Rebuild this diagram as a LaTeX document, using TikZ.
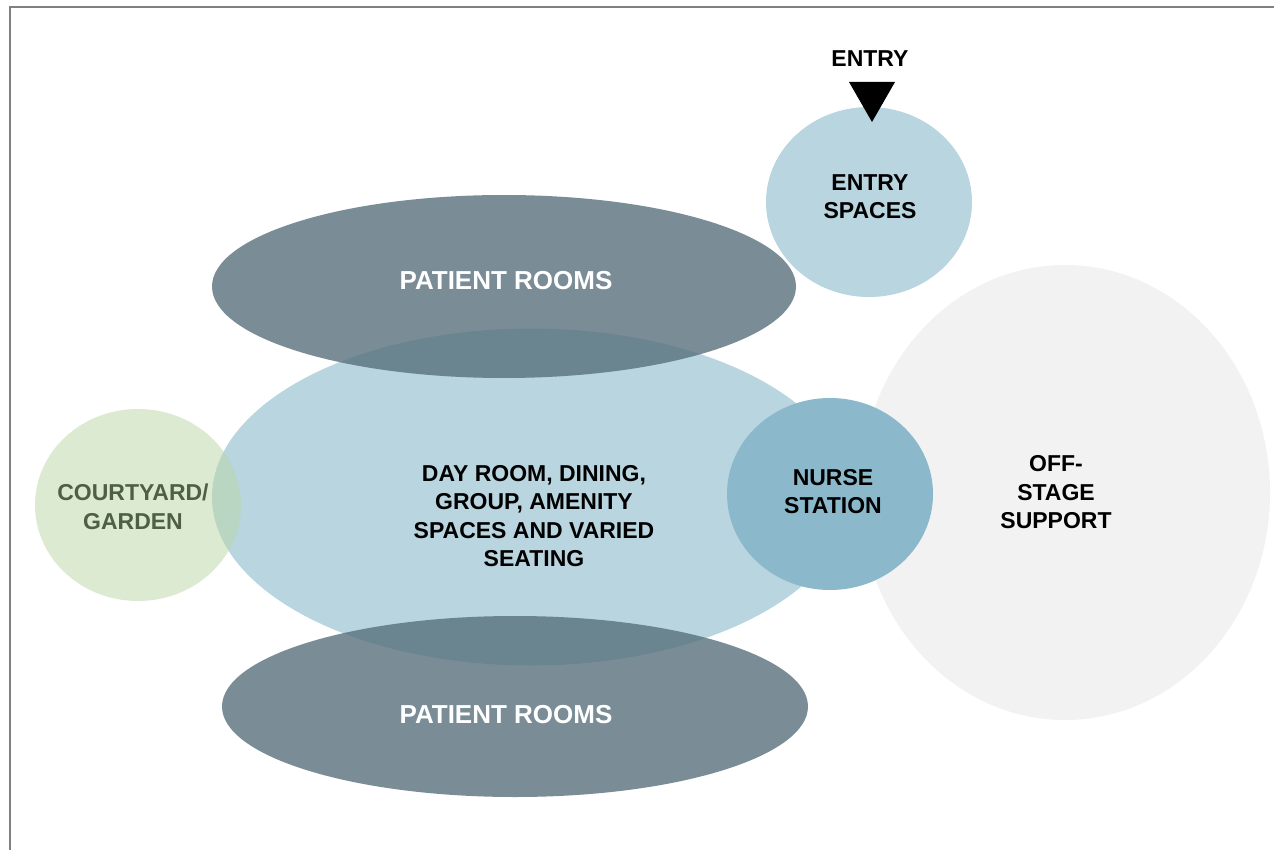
\documentclass[tikz,border=0pt]{standalone}
\usepackage{fontspec}
\setmainfont{Liberation Sans}
\usetikzlibrary{shapes.geometric}
\definecolor{dayblue}{HTML}{B8D5E0}
\definecolor{roomgray}{HTML}{556E7A}
\definecolor{nurseblue}{HTML}{8BB9CB}
\definecolor{offgray}{HTML}{F2F2F2}
\definecolor{gardengreen}{HTML}{BBD7A7}
\definecolor{gardentext}{HTML}{4E6044}
\definecolor{framegray}{HTML}{808080}
\begin{document}
\begin{tikzpicture}[x=1pt,y=-1pt,
  zone/.style={ellipse, draw=none, inner sep=0pt, outer sep=0pt},
  lbl/.style={font=\bfseries\fontsize{23}{28.5}\selectfont, align=center, anchor=base, inner sep=0pt},
  roomlbl/.style={font=\bfseries\fontsize{26}{30}\selectfont, text=white, anchor=base, inner sep=0pt}]
\useasboundingbox (0,0) rectangle (1274,850);
\fill[white] (0,0) rectangle (1274,850);
\draw[framegray, line width=2pt] (10,851) -- (10,7) -- (1275,7);

% zones
\node[zone, fill=offgray, minimum width=410pt, minimum height=455pt] (off) at (1065,492.5) {};
\node[zone, fill=dayblue, minimum width=638pt, minimum height=337pt] (day) at (531,497) {};
\node[zone, fill=gardengreen, fill opacity=0.5, minimum width=206pt, minimum height=192pt] (garden) at (138,505) {};
\node[zone, fill=roomgray, fill opacity=0.78, minimum width=584pt, minimum height=183pt] (roomsN) at (504,286.5) {};
\node[zone, fill=roomgray, fill opacity=0.78, minimum width=586pt, minimum height=181pt] (roomsS) at (515,706.5) {};
\node[zone, fill=nurseblue, minimum width=206pt, minimum height=192pt] (nurse) at (830,494) {};
\node[zone, fill=dayblue, minimum width=206pt, minimum height=190pt] (entryzone) at (869,202) {};

% labels (anchor=base is the baseline of the last line)
\node[lbl] (entrylbl) at (870,67) {ENTRY};
\fill[black] (849,82) -- (895,82) -- (872,122) -- cycle;
\node[lbl] (entrytxt) at (870,219) {ENTRY\\SPACES};
\node[roomlbl] (roomsNtxt) at (506,290) {PATIENT ROOMS};
\node[roomlbl] (roomsStxt) at (506,723) {PATIENT ROOMS};
\node[lbl] (daytxt) at (534,566.5) {DAY ROOM, DINING,\\GROUP, AMENITY\\SPACES AND VARIED\\SEATING};
\node[lbl, text=gardentext] (gardentxt) at (133,529) {COURTYARD/\\GARDEN};
\node[lbl] (nursetxt) at (833,513.5) {NURSE\\STATION};
\node[lbl] (offtxt) at (1056,528.5) {OFF-\\STAGE\\SUPPORT};
\end{tikzpicture}
\end{document}
